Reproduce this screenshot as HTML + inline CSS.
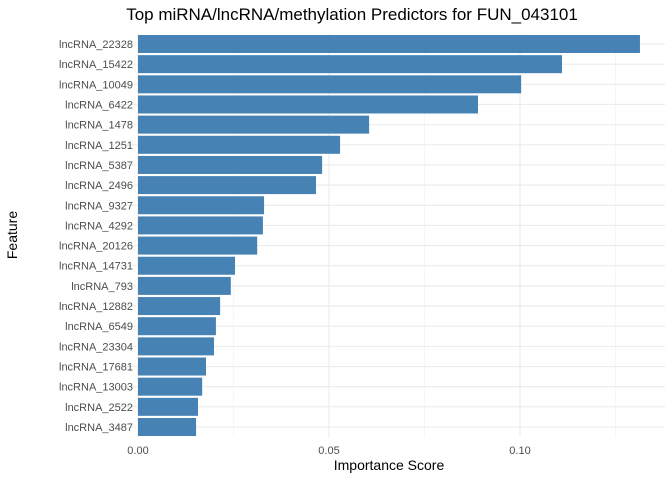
<!DOCTYPE html>
<html><head><meta charset="utf-8"><style>
body{margin:0;background:#fff;}
svg{font-family:"Liberation Sans",sans-serif;}
</style></head><body>
<svg id="chart" width="672" height="480">
<text x="352" y="20" text-anchor="middle" font-size="17" fill="#000">Top miRNA/lncRNA/methylation Predictors for FUN_043101</text>
<text x="389" y="470" text-anchor="middle" font-size="14" fill="#000">Importance Score</text>
<text transform="translate(17,235) rotate(-90)" text-anchor="middle" font-size="14" fill="#000">Feature</text>
<g id="grid"></g><g id="bars"></g><g id="labels"></g>
</svg>
<script>
const features=["lncRNA_22328","lncRNA_15422","lncRNA_10049","lncRNA_6422","lncRNA_1478","lncRNA_1251","lncRNA_5387","lncRNA_2496","lncRNA_9327","lncRNA_4292","lncRNA_20126","lncRNA_14731","lncRNA_793","lncRNA_12882","lncRNA_6549","lncRNA_23304","lncRNA_17681","lncRNA_13003","lncRNA_2522","lncRNA_3487"];
const values=[0.1314,0.1110,0.1003,0.0890,0.0605,0.0529,0.0482,0.0466,0.0330,0.0327,0.0312,0.0254,0.0243,0.0215,0.0204,0.0199,0.0178,0.0168,0.0157,0.0152];
const xTicks=[0,0.05,0.10];
const xTickLabels=["0.00","0.05","0.10"];
const NS="http://www.w3.org/2000/svg";
const x0=138,pxPerUnit=3820,panelL=118,panelR=665,panelT=34,panelB=437;
const xs=v=>x0+v*pxPerUnit;
const step=(427-44)/(features.length-1);
const yc=i=>44+i*step;
function mk(t,a,p){const e=document.createElementNS(NS,t);for(const k in a)e.setAttribute(k,a[k]);p.appendChild(e);return e;}
const grid=document.getElementById('grid'),bars=document.getElementById('bars'),labels=document.getElementById('labels');
// minor grid
for(let k=0;k<xTicks.length;k++){const m=xTicks[k]+0.025;if(xs(m)<panelR){const l=mk('line',{x1:xs(m),x2:xs(m),y1:panelT,y2:panelB,stroke:'#f0f0f0','stroke-width':0.6},grid);

}}
xTicks.forEach((t,k)=>{const l=mk('line',{x1:xs(t),x2:xs(t),y1:panelT,y2:panelB,stroke:'#ebebeb','stroke-width':1.1},grid);


const tx=mk('text',{x:xs(t),y:454,'text-anchor':'middle','font-size':11,fill:'#4d4d4d'},labels);tx.textContent=xTickLabels[k];

});
features.forEach((f,i)=>{const g=mk('line',{x1:panelL,x2:panelR,y1:yc(i),y2:yc(i),stroke:'#ebebeb','stroke-width':1.1},grid);


const r=mk('rect',{x:xs(0),y:yc(i)-9,width:xs(values[i])-xs(0),height:18,fill:'#4682b4'},bars);


const t=mk('text',{x:133,y:yc(i)+4,'text-anchor':'end','font-size':11,fill:'#4d4d4d'},labels);t.textContent=f;

});
</script>
</body></html>
